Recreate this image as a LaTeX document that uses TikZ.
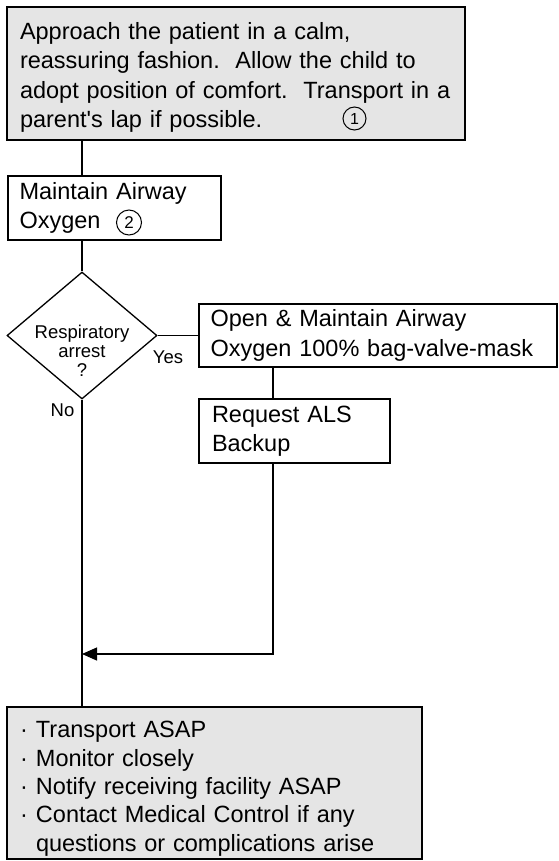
\documentclass[tikz,border=0pt]{standalone}
\usepackage{fontspec}
\setmainfont{Liberation Sans}
\usetikzlibrary{shapes.geometric,arrows.meta}
\newcommand{\bulmark}{\makebox[16bp][l]{·}}
\newcommand{\firstline}[1]{\rule{0pt}{#1}}
\begin{document}
\begin{tikzpicture}[line width=1.3bp,
	box/.style={draw,rectangle,line width=1.3bp,align=left,inner ysep=0bp,font=\fontsize{23.5bp}{29.5bp}\selectfont},
	graybox/.style={box,fill=black!10,line width=2.5bp},
	num/.style={draw,circle,line width=1bp,inner sep=0bp},
	lbl/.style={inner sep=0bp,font=\fontsize{18.5bp}{19bp}\selectfont}]
		%%
	\useasboundingbox (0bp,0bp) rectangle (559bp,-861bp);
	\node (intro) at (236bp,-73.5bp) [graybox,inner xsep=13bp,text width=432bp,minimum height=133bp] {\firstline{25bp}Approach the patient in a calm,\\reassuring fashion.\ \ Allow the child to\\adopt position of comfort.\ \ Transport in a\\parent\textquotesingle s lap if possible.};
	\node (n1) at (354.5bp,-118.5bp) [num,minimum size=23bp,font=\fontsize{16bp}{16bp}\selectfont] {1};
	\node (airway) at (114.5bp,-208bp) [box,inner xsep=11.5bp,text width=190bp,minimum height=64bp] {Maintain Airway\\Oxygen};
	\node (n2) at (129bp,-222.5bp) [num,minimum size=25bp,font=\fontsize{17bp}{17bp}\selectfont] {2};
	\node (arrest) at (82bp,-335.5bp) [draw,diamond,minimum width=150bp,minimum height=127bp,inner sep=0bp] {};
	\node (arrestq) at (82bp,-351bp) [lbl,align=center] {Respiratory\\arrest\\?};
	\node (bvm) at (378bp,-335.5bp) [box,inner xsep=11.5bp,text width=335bp,minimum height=63bp] {Open \& Maintain Airway\\Oxygen 100\% bag-valve-mask};
	\node (als) at (294.5bp,-431bp) [box,inner xsep=13bp,text width=165bp,minimum height=64bp] {Request ALS\\Backup};
	\node (final) at (214.5bp,-783bp) [graybox,inner xsep=13bp,text width=389bp,minimum height=152bp,font=\fontsize{23.5bp}{28.3bp}\selectfont] {\firstline{28bp}\bulmark Transport ASAP\\\bulmark Monitor closely\\\bulmark Notify receiving facility ASAP\\\bulmark Contact Medical Control if any\\\hphantom{\bulmark}questions or complications arise};
	\node (yes) at (168bp,-357bp) [lbl] {Yes};
	\node (no) at (62.5bp,-410bp) [lbl] {No};
	\coordinate (corner) at (273bp,-654bp);
	\coordinate (merge) at (82bp,-654bp);
	%
	\draw (intro.south -| arrest.north) -- (airway.north -| arrest.north);
	\draw (airway.south -| arrest.north) -- (arrest.north);
	\draw (arrest.east) -- (bvm.west);
	\draw (bvm.south -| corner) -- (als.north -| corner);
	\draw [-{Triangle[length=15bp,width=13bp]}] (als.south -| corner) -- (corner) -- (merge);
	\draw (arrest.south) -- (final.north -| arrest.south);
		%
	\end{tikzpicture}
\end{document}
